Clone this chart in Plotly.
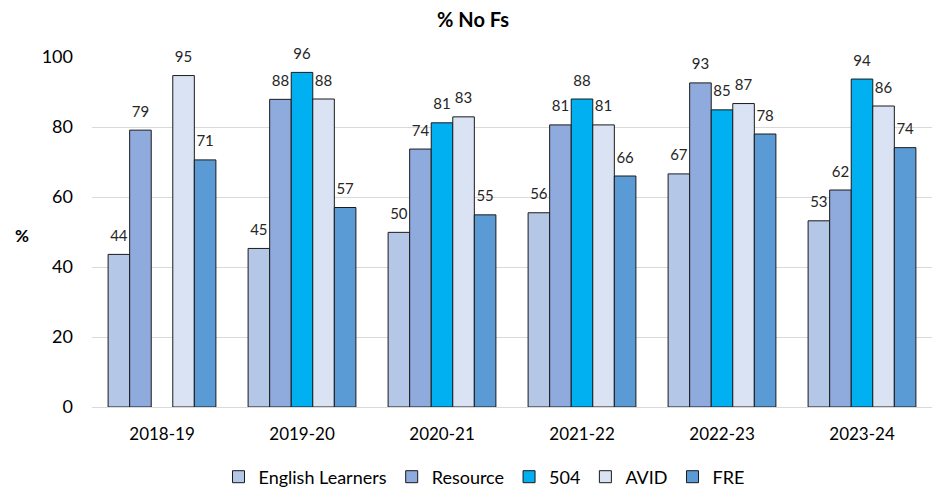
import plotly.graph_objects as go

years = ["2018-19", "2019-20", "2020-21", "2021-22", "2022-23", "2023-24"]
series_names = ["English Learners", "Resource", "504", "AVID", "FRE"]
english_learners = [43.6, 45.3, 49.9, 55.5, 66.6, 53.2]
resource = [79.1, 87.9, 73.7, 80.6, 92.6, 62.0]
s504 = [None, 95.6, 81.2, 88.0, 84.9, 93.7]
avid = [94.7, 88.0, 82.9, 80.6, 86.7, 86.0]
fre = [70.6, 57.0, 54.9, 66.0, 78.0, 74.1]
colors = ["#B4C7E7", "#8FAADC", "#00B0F0", "#DAE3F3", "#5B9BD5"]

FONT = "Lato, Carlito, Calibri, sans-serif"
GAP = 0.23
fig = go.Figure()
all_vals = [english_learners, resource, s504, avid, fre]
for i, (name, vals, col) in enumerate(zip(series_names, all_vals, colors)):
    fig.add_trace(go.Bar(
        x=years, y=vals, name=name, offsetgroup=str(i),
        marker=dict(color=col, line=dict(color="#1a1a1a", width=1)),
    ))
for i, (name, vals) in enumerate(zip(series_names, all_vals)):
    fig.add_trace(go.Scatter(
        x=years, y=vals, mode="markers+text", offsetgroup=str(i), showlegend=False,
        text=[None if v is None else f"{v:.0f}" for v in vals],
        textposition="top center",
        marker=dict(size=14, opacity=0),
        textfont=dict(family=FONT, size=15, color="#262626"),
        cliponaxis=False, hoverinfo="skip",
    ))

fig.update_layout(
    width=948, height=491,
    barmode="group", bargap=GAP, bargroupgap=0,
    scattermode="group", scattergap=GAP,
    paper_bgcolor="white", plot_bgcolor="white",
    margin=dict(l=84, r=24, t=49, b=92),
    title=dict(text="<b>% No Fs</b>", xref="container", x=465/948, xanchor="center",
               yref="container", y=1 - 12/491, yanchor="middle",
               font=dict(family=FONT, size=20, color="#000000")),
    font=dict(family=FONT, size=15, color="#000000"),
    legend=dict(orientation="h", xref="container", x=476/948, xanchor="center",
                yref="container", y=1 - 469/491, yanchor="middle",
                font=dict(family=FONT, size=18, color="#000000"), traceorder="normal",
                itemwidth=30, tracegroupgap=0),
    showlegend=True,
)
fig.update_yaxes(range=[0, 100], tickvals=[0, 20, 40, 60, 80, 100], showgrid=True,
                 gridcolor="#D9D9D9", gridwidth=1, zeroline=False, showline=False,
                 tickfont=dict(family=FONT, size=18, color="#000000"), ticks="",
                 ticklabelstandoff=18)
fig.update_xaxes(showline=True, linecolor="#D9D9D9", linewidth=1, ticks="",
                 tickfont=dict(family=FONT, size=17, color="#000000"),
                 ticklabelstandoff=12)
fig.add_annotation(text="<b>%</b>", xref="paper", yref="paper", x=-0.083, y=0.49,
                   showarrow=False, font=dict(family=FONT, size=17, color="#000000"),
                   xanchor="center", yanchor="middle")

fig.write_html("out.html")
